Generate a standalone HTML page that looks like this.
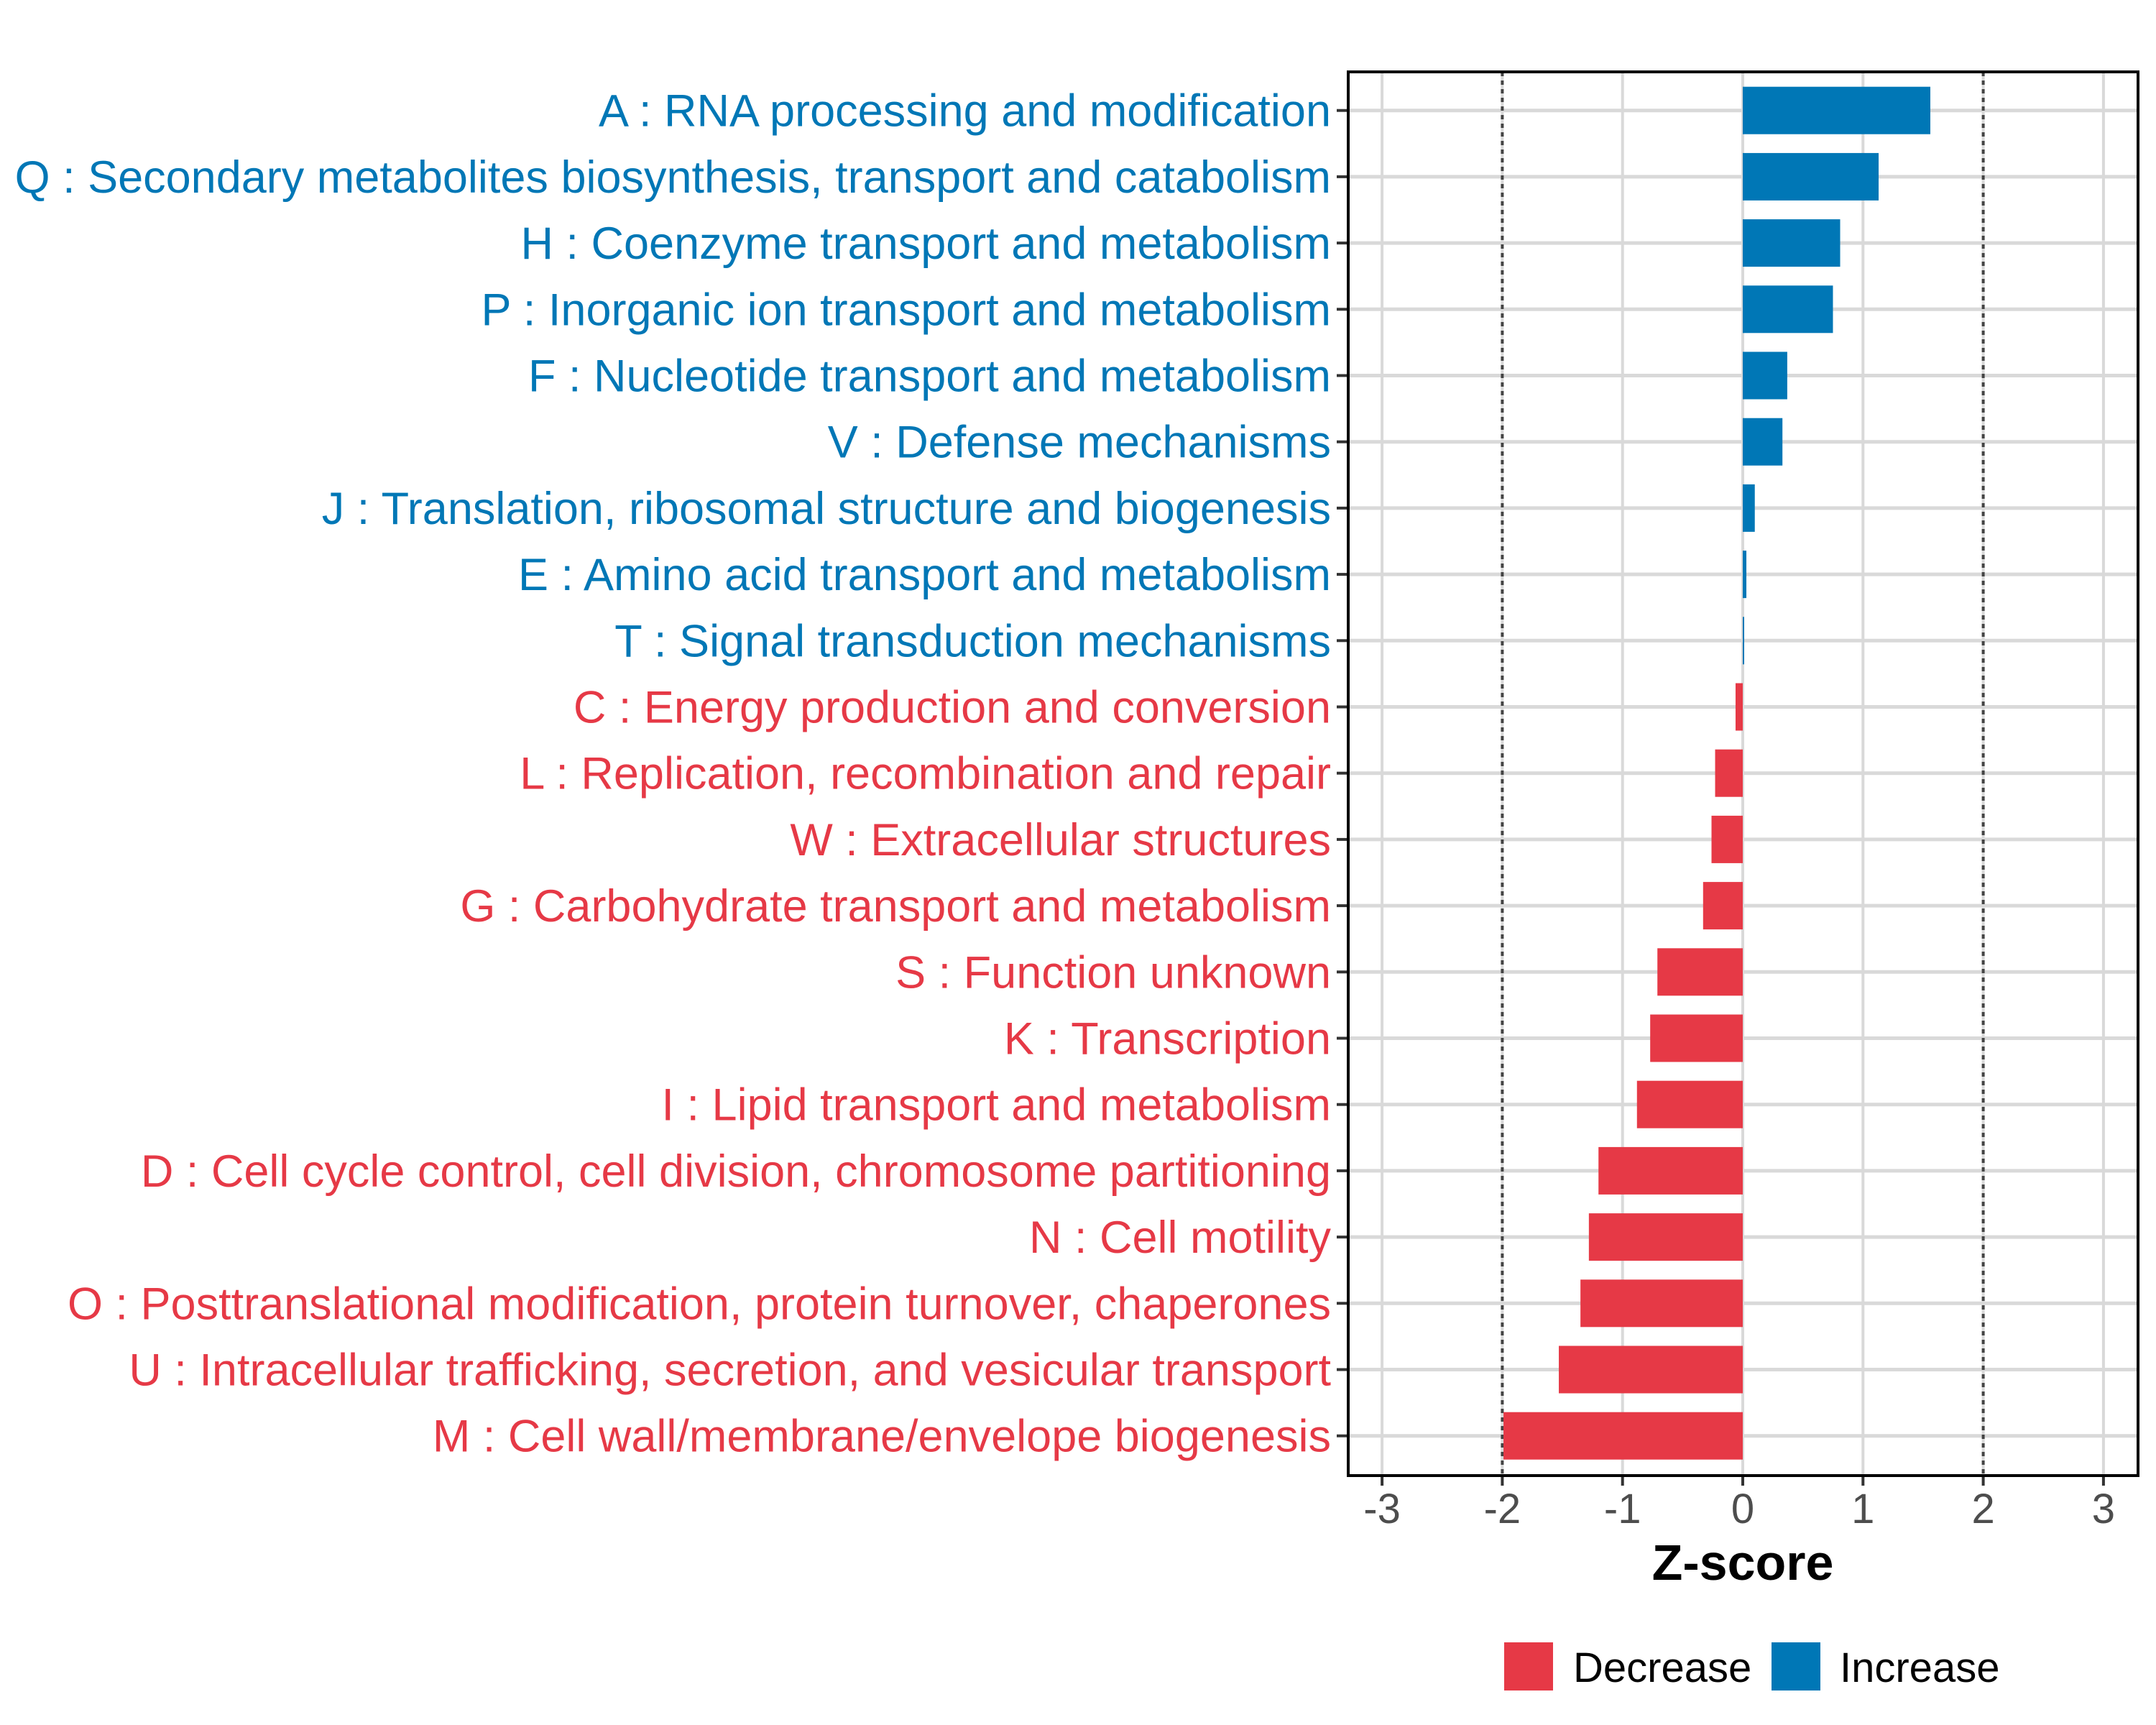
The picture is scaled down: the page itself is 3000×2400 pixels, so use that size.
<!DOCTYPE html>
<html><head><meta charset="utf-8"><style>body{margin:0;background:#fff}svg{display:block}</style></head>
<body>
<svg id="chart" width="3000" height="2400" xmlns="http://www.w3.org/2000/svg" font-family="Liberation Sans, Arial, sans-serif">
<rect width="3000" height="2400" fill="#fff"/>
<g id="grid"></g><g id="bars"></g><g id="labels"></g><g id="xaxis"></g>
<rect x="1876" y="100" width="1099" height="1953" fill="none" stroke="#000" stroke-width="4"/>
<text x="2425" y="2198" font-size="70" font-weight="bold" text-anchor="middle">Z-score</text>
<rect x="2093" y="2285" width="68" height="67" fill="#E63946"/>
<text x="2189" y="2340" font-size="58">Decrease</text>
<rect x="2465" y="2285" width="68" height="67" fill="#0077B6"/>
<text x="2560" y="2340" font-size="58">Increase</text>
</svg>
<script>
const categories=["A : RNA processing and modification","Q : Secondary metabolites biosynthesis, transport and catabolism","H : Coenzyme transport and metabolism","P : Inorganic ion transport and metabolism","F : Nucleotide transport and metabolism","V : Defense mechanisms","J : Translation, ribosomal structure and biogenesis","E : Amino acid transport and metabolism","T : Signal transduction mechanisms","C : Energy production and conversion","L : Replication, recombination and repair","W : Extracellular structures","G : Carbohydrate transport and metabolism","S : Function unknown","K : Transcription","I : Lipid transport and metabolism","D : Cell cycle control, cell division, chromosome partitioning","N : Cell motility","O : Posttranslational modification, protein turnover, chaperones","U : Intracellular trafficking, secretion, and vesicular transport","M : Cell wall/membrane/envelope biogenesis"];
const zscores=[1.56,1.13,0.81,0.75,0.37,0.33,0.10,0.03,0.01,-0.06,-0.23,-0.26,-0.33,-0.71,-0.77,-0.88,-1.2,-1.28,-1.35,-1.53,-1.99];
const xTicks=[-3,-2,-1,0,1,2,3];
const xTickLabels=["-3","-2","-1","0","1","2","3"];
const refLines=[-2,2];
const NS="http://www.w3.org/2000/svg";
const X0=2425,UNIT=167.3,Y0=153.7,STEP=92.2,PL=1876,PR=2975,PT=100,PB=2053;
const x=v=>X0+v*UNIT, y=i=>Y0+i*STEP;
function mk(tag,attrs,parent){const e=document.createElementNS(NS,tag);for(const k in attrs)e.setAttribute(k,attrs[k]);document.getElementById(parent).appendChild(e);return e;}
xTicks.forEach((t,i)=>{
 const g=mk('line',{x1:x(t),x2:x(t),y1:PT,y2:PB,stroke:'#d9d9d9','stroke-width':4},'grid');
 
 
 const tk=mk('line',{x1:x(t),x2:x(t),y1:PB,y2:PB+14,stroke:'#333','stroke-width':4},'xaxis');
 
 
 const tl=mk('text',{x:x(t),y:PB+66,'font-size':58,fill:'#4d4d4d','text-anchor':'middle'},'xaxis');
 tl.textContent=xTickLabels[i];
 
 
});
categories.forEach((c,i)=>{
 const g=mk('line',{x1:PL,x2:PR,y1:y(i),y2:y(i),stroke:'#d9d9d9','stroke-width':5},'grid');
 
 
});
refLines.forEach(r=>{
 const l=mk('line',{x1:x(r),x2:x(r),y1:PT,y2:PB,stroke:'#444','stroke-width':4,'stroke-dasharray':'6,6'},'grid');
 
 
});
categories.forEach((c,i)=>{
 const v=zscores[i];const col=v>=0?'#0077B6':'#E63946';
 const b=mk('rect',{x:Math.min(x(0),x(v)),y:y(i)-33,width:Math.max(Math.abs(x(v)-x(0)),2),height:66,fill:col},'bars');
 
 
 const tk=mk('line',{x1:PL-16,x2:PL,y1:y(i),y2:y(i),stroke:'#333','stroke-width':4},'labels');
 
 
 const t=mk('text',{x:1852,y:y(i)+22,'font-size':63,fill:col,'text-anchor':'end'},'labels');
 t.textContent=c;
 
 
});
</script>
</body></html>
